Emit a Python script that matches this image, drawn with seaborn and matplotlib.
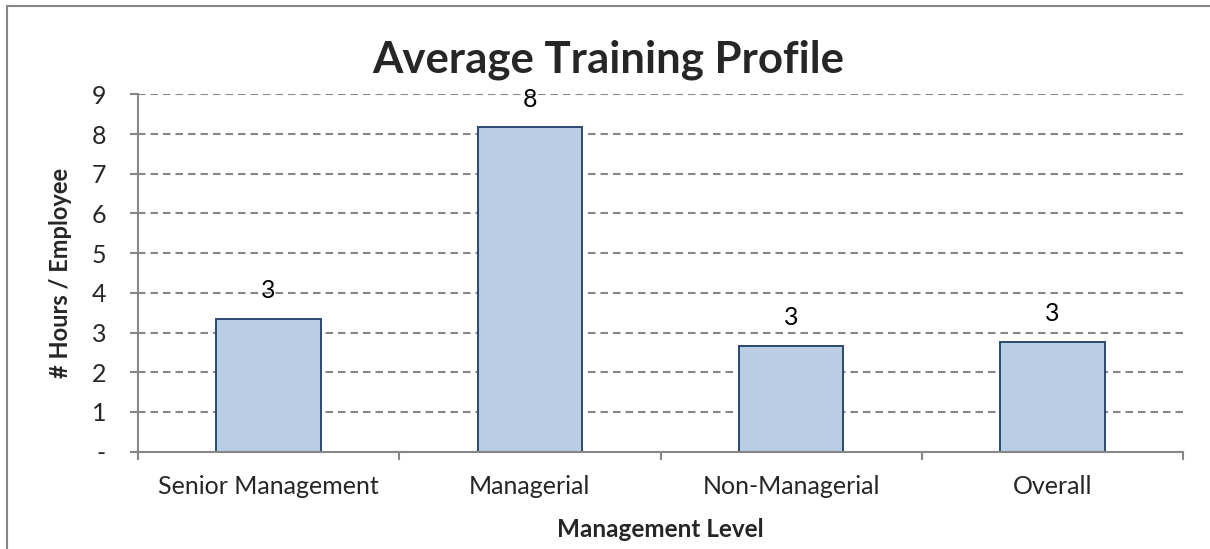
import matplotlib
matplotlib.use("Agg")
import matplotlib.pyplot as plt
import seaborn as sns
import pandas as pd
from matplotlib.lines import Line2D

categories = ["Senior Management", "Managerial", "Non-Managerial", "Overall"]
hours = [3.34, 8.17, 2.66, 2.77]
ytick_values = [0, 1, 2, 3, 4, 5, 6, 7, 8, 9]
ytick_labels = ["-", "1", "2", "3", "4", "5", "6", "7", "8", "9"]

sns.set_theme(style="white")
plt.rcParams["font.family"] = ["Lato", "DejaVu Sans"]

df = pd.DataFrame({"Management Level": categories, "Hours": hours})

fig = plt.figure(figsize=(12.10, 5.49), dpi=100)
ax = fig.add_axes([138 / 1210, 97.3 / 549, (1183 - 138) / 1210, (454.7 - 97.3) / 549])

grid_color = "#868686"
for v in ytick_values[1:]:
    ax.axhline(v, color=grid_color, lw=1.5, linestyle=(0, (3.6, 2.4)), zorder=0)

sns.barplot(data=df, x="Management Level", y="Hours", ax=ax,
            color="#B9CDE5", edgecolor="#2B4A72", linewidth=1.4,
            width=0.40, saturation=1, zorder=2)

ax.bar_label(ax.containers[0], fmt="%.0f", padding=12, fontsize=18, color="black")

ax.set_xlim(-0.5, 3.5)
ax.set_ylim(0, 9)
ax.set_yticks(ytick_values)
ax.set_yticklabels(ytick_labels, fontsize=18)
ax.set_xticks(range(len(categories)))
ax.set_xticklabels(categories, fontsize=18)
ax.set_xticks([-0.5, 0.5, 1.5, 2.5, 3.5], minor=True)
ax.tick_params(axis="x", which="major", length=0, pad=17)
ax.tick_params(axis="x", which="minor", length=6, width=1.5, color=grid_color, bottom=True)
ax.tick_params(axis="y", which="major", length=6, width=1.5, color=grid_color, left=True, pad=17)

for s in ["top", "right"]:
    ax.spines[s].set_visible(False)
for s in ["left", "bottom"]:
    ax.spines[s].set_color(grid_color)
    ax.spines[s].set_linewidth(1.5)

ax.set_xlabel("Management Level", fontsize=17.5, fontweight="bold", labelpad=14)
ax.set_ylabel("# Hours / Employee", fontsize=17, fontweight="bold", labelpad=14)

fig.text(0.5025, 1 - 73 / 549, "Average Training Profile", ha="center", va="baseline",
         fontsize=31.5, fontweight="bold")

# outer chart border (top and left visible)
fig.add_artist(Line2D([7 / 1210, 7 / 1210], [0, 1 - 6 / 549], transform=fig.transFigure,
                      color=grid_color, lw=1.5))
fig.add_artist(Line2D([7 / 1210, 1], [1 - 6 / 549, 1 - 6 / 549], transform=fig.transFigure,
                      color=grid_color, lw=1.5))

fig.savefig("out.png", dpi=100)
